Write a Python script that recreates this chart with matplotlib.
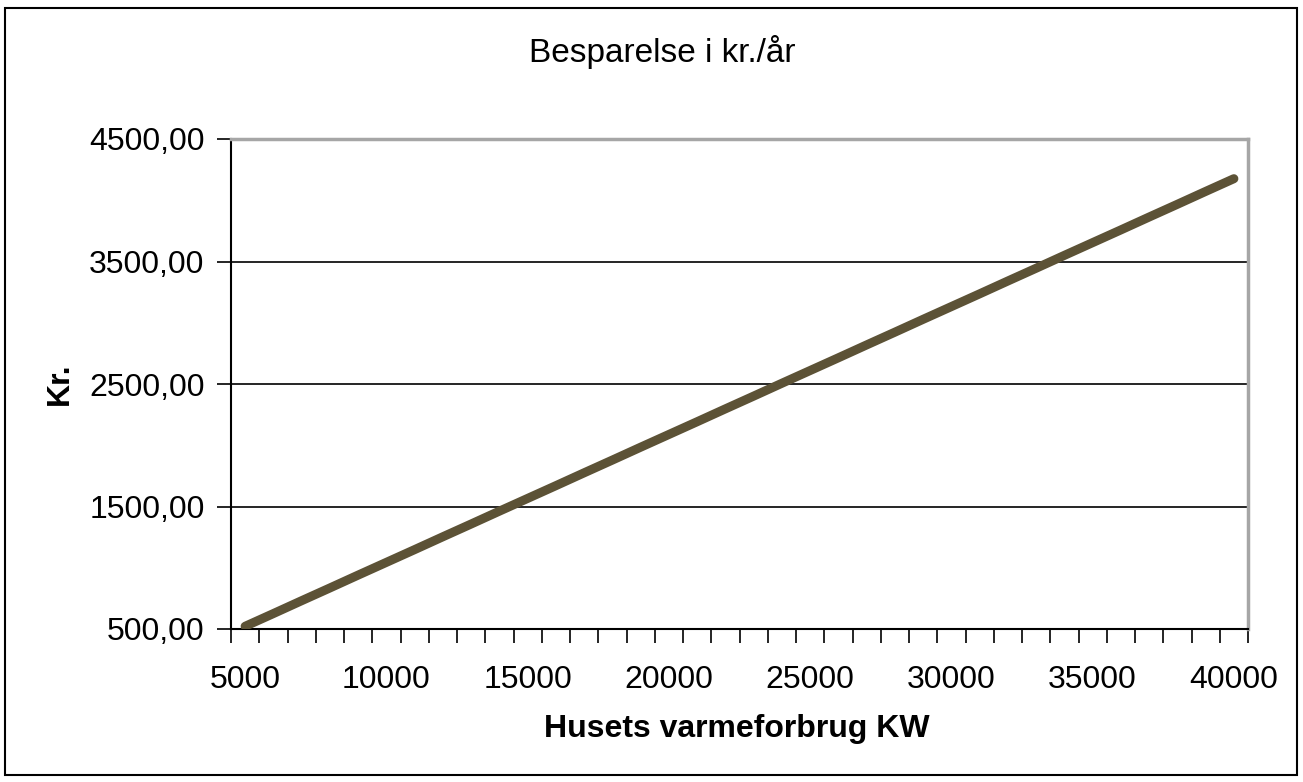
import matplotlib.pyplot as plt
from matplotlib.patches import Rectangle

plt.rcParams['font.family'] = ['Liberation Sans', 'DejaVu Sans']

# husets varmeforbrug (kW), one category per 1000 kW
forbrug = [5000, 6000, 7000, 8000, 9000, 10000, 11000, 12000, 13000, 14000,
           15000, 16000, 17000, 18000, 19000, 20000, 21000, 22000, 23000, 24000,
           25000, 26000, 27000, 28000, 29000, 30000, 31000, 32000, 33000, 34000,
           35000, 36000, 37000, 38000, 39000, 40000]
# besparelse i kr./år
besparelse = [522, 626, 731, 835, 940, 1044, 1148, 1253, 1357, 1462,
              1566, 1670, 1775, 1879, 1984, 2088, 2192, 2297, 2401, 2506,
              2610, 2714, 2819, 2923, 3028, 3132, 3236, 3341, 3445, 3550,
              3654, 3758, 3863, 3967, 4072, 4176]
y_ticks = [500, 1500, 2500, 3500, 4500]


def main():
    fig = plt.figure(figsize=(13.03, 7.82), dpi=100)
    ax = fig.add_axes([231 / 1303, 1 - 629 / 782, (1248 - 231) / 1303, (629 - 139) / 782])

    idx = list(range(len(forbrug)))
    ax.plot(idx, besparelse, color='#5c5236', linewidth=6.5, solid_capstyle='round', zorder=3)

    ax.set_xlim(-0.5, len(forbrug) - 0.5)
    ax.set_ylim(500, 4500)

    # category axis: ticks between categories, labels every 5th category
    ax.set_xticks([i - 0.5 for i in range(len(forbrug) + 1)])
    ax.set_xticklabels([])
    ax.set_xticks([i for i in idx if i % 5 == 0], minor=True)
    ax.set_xticklabels([str(forbrug[i]) for i in idx if i % 5 == 0], minor=True)
    ax.tick_params(axis='x', which='major', direction='out', length=10, width=1.2, color='black')
    ax.tick_params(axis='x', which='minor', length=0, pad=26, labelsize=23)

    ax.set_yticks(y_ticks)
    ax.set_yticklabels([f'{v},00' for v in y_ticks])
    ax.tick_params(axis='y', direction='out', length=10, width=1.2, labelsize=23, pad=9)

    for v in y_ticks[1:-1]:
        ax.axhline(v, color='black', linewidth=1.2, zorder=1)

    ax.spines['left'].set_color('black')
    ax.spines['bottom'].set_color('black')
    ax.spines['left'].set_linewidth(1.5)
    ax.spines['bottom'].set_linewidth(1.5)
    ax.spines['top'].set_color('#a6a6a6')
    ax.spines['right'].set_color('#a6a6a6')
    ax.spines['top'].set_linewidth(2.5)
    ax.spines['right'].set_linewidth(2.5)

    fig.text(662 / 1303, 1 - 52 / 782, 'Besparelse i kr./år', ha='center', va='center', fontsize=24)
    fig.text(737 / 1303, 1 - 729 / 782, 'Husets varmeforbrug KW', ha='center', va='center',
             fontsize=23, fontweight='bold')
    fig.text(60 / 1303, 1 - 384 / 782, 'Kr.', ha='center', va='center', rotation=90,
             fontsize=23, fontweight='bold')

    fig.patches.append(Rectangle((5 / 1303, 1 - 775 / 782), 1292 / 1303, 767 / 782,
                                 transform=fig.transFigure, fill=False,
                                 edgecolor='black', linewidth=1.5))

    fig.savefig('out.png', dpi=100)


if __name__ == '__main__':
    main()
